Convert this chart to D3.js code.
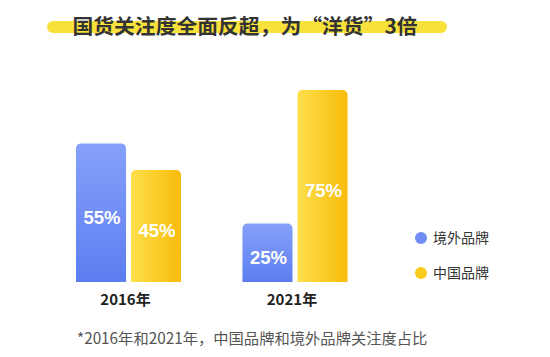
<!DOCTYPE html>
<html><head><meta charset="utf-8">
<script src="https://cdn.jsdelivr.net/npm/d3@7/dist/d3.min.js"></script>
<style>body{margin:0;background:#fff}svg{display:block}</style>
</head><body>
<svg id="c" width="550" height="357"></svg>
<script>
const years = ["2016年", "2021年"];
const series = ["境外品牌", "中国品牌"];
const foreignValues = [55, 25];
const chineseValues = [45, 75];
const valueLabels = [["55%", "45%"], ["25%", "75%"]];
const title = "国货关注度全面反超，为“洋货”3倍";
const footnote = "*2016年和2021年，中国品牌和境外品牌关注度占比";

const svg = d3.select("#c");
const defs = svg.append("defs");
const gb = defs.append("linearGradient").attr("id","gBlue").attr("x1",0).attr("y1",0).attr("x2",0).attr("y2",1);
gb.append("stop").attr("offset","0%").attr("stop-color","#86A1FA");
gb.append("stop").attr("offset","100%").attr("stop-color","#5C7DF0");
const gy = defs.append("linearGradient").attr("id","gYellow").attr("x1",0).attr("y1",0).attr("x2",1).attr("y2",0);
gy.append("stop").attr("offset","0%").attr("stop-color","#FDE04C");
gy.append("stop").attr("offset","100%").attr("stop-color","#F8BB0A");
const fills = ["url(#gBlue)", "url(#gYellow)"];
const dotColors = ["#6F8CF5", "#FBCB1E"];

// title highlight
svg.append("rect").attr("x",47).attr("y",21).attr("width",400).attr("height",12).attr("rx",6).attr("fill","#F9E13C");
svg.append("text").attr("x",245).attr("y",34).attr("text-anchor","middle")
  .attr("font-family","'Noto Sans CJK SC', sans-serif").attr("font-weight","bold").attr("font-size",20.8)
  .attr("fill","#333").text(title);

const x = d3.scaleBand().domain(years).range([76, 347.5]).paddingInner(0.369).paddingOuter(0);
const xi = d3.scaleBand().domain(series).range([0, x.bandwidth()]).paddingInner(0.09);
const y = d3.scaleLinear().domain([3.1, 75]).range([282, 90]);

const data = [];
years.forEach((yr, i) => {
  data.push({year: yr, s: series[0], v: foreignValues[i], label: valueLabels[i][0], k: 0});
  data.push({year: yr, s: series[1], v: chineseValues[i], label: valueLabels[i][1], k: 1});
});

function topRounded(x0, y0, w, h, r) {
  const p = d3.path();
  p.moveTo(x0, y0 + h);
  p.lineTo(x0, y0 + r);
  p.arcTo(x0, y0, x0 + r, y0, r);
  p.lineTo(x0 + w - r, y0);
  p.arcTo(x0 + w, y0, x0 + w, y0 + r, r);
  p.lineTo(x0 + w, y0 + h);
  p.closePath();
  return p.toString();
}

svg.selectAll("path.bar").data(data).join("path").attr("class","bar")
  .attr("d", d => topRounded(x(d.year) + xi(d.s), y(d.v), xi.bandwidth(), y.range()[0] - y(d.v), 5))
  .attr("fill", d => fills[d.k]);

svg.selectAll("text.val").data(data).join("text").attr("class","val")
  .attr("x", d => x(d.year) + xi(d.s) + xi.bandwidth()/2 + 1)
  .attr("y", d => (y(d.v) + y.range()[0]) / 2 + 11)
  .attr("text-anchor","middle").attr("fill","#fff")
  .attr("font-family","'Liberation Sans', Arial, sans-serif").attr("font-weight","bold").attr("font-size",18.5)
  .text(d => d.label);

svg.selectAll("text.yr").data(years).join("text").attr("class","yr")
  .attr("x", d => x(d) + x.bandwidth()/2 - 3)
  .attr("y", 305).attr("text-anchor","middle").attr("fill","#222")
  .attr("font-family","'Noto Sans CJK SC', sans-serif").attr("font-weight","bold").attr("font-size",15)
  .text(d => d);

// legend
const lg = svg.selectAll("g.lg").data(series).join("g").attr("class","lg")
  .attr("transform", (d,i) => `translate(421,${238 + i*35})`);
lg.append("circle").attr("r",6).attr("fill", (d,i) => dotColors[i]);
lg.append("text").attr("x",12).attr("y",5).attr("fill","#333")
  .attr("font-family","'Noto Sans CJK SC', sans-serif").attr("font-size",14).text(d => d);

svg.append("text").attr("x",77).attr("y",344).attr("fill","#555")
  .attr("font-family","'Noto Sans CJK SC', sans-serif").attr("font-size",15.3).text(footnote);
</script>
</body></html>
